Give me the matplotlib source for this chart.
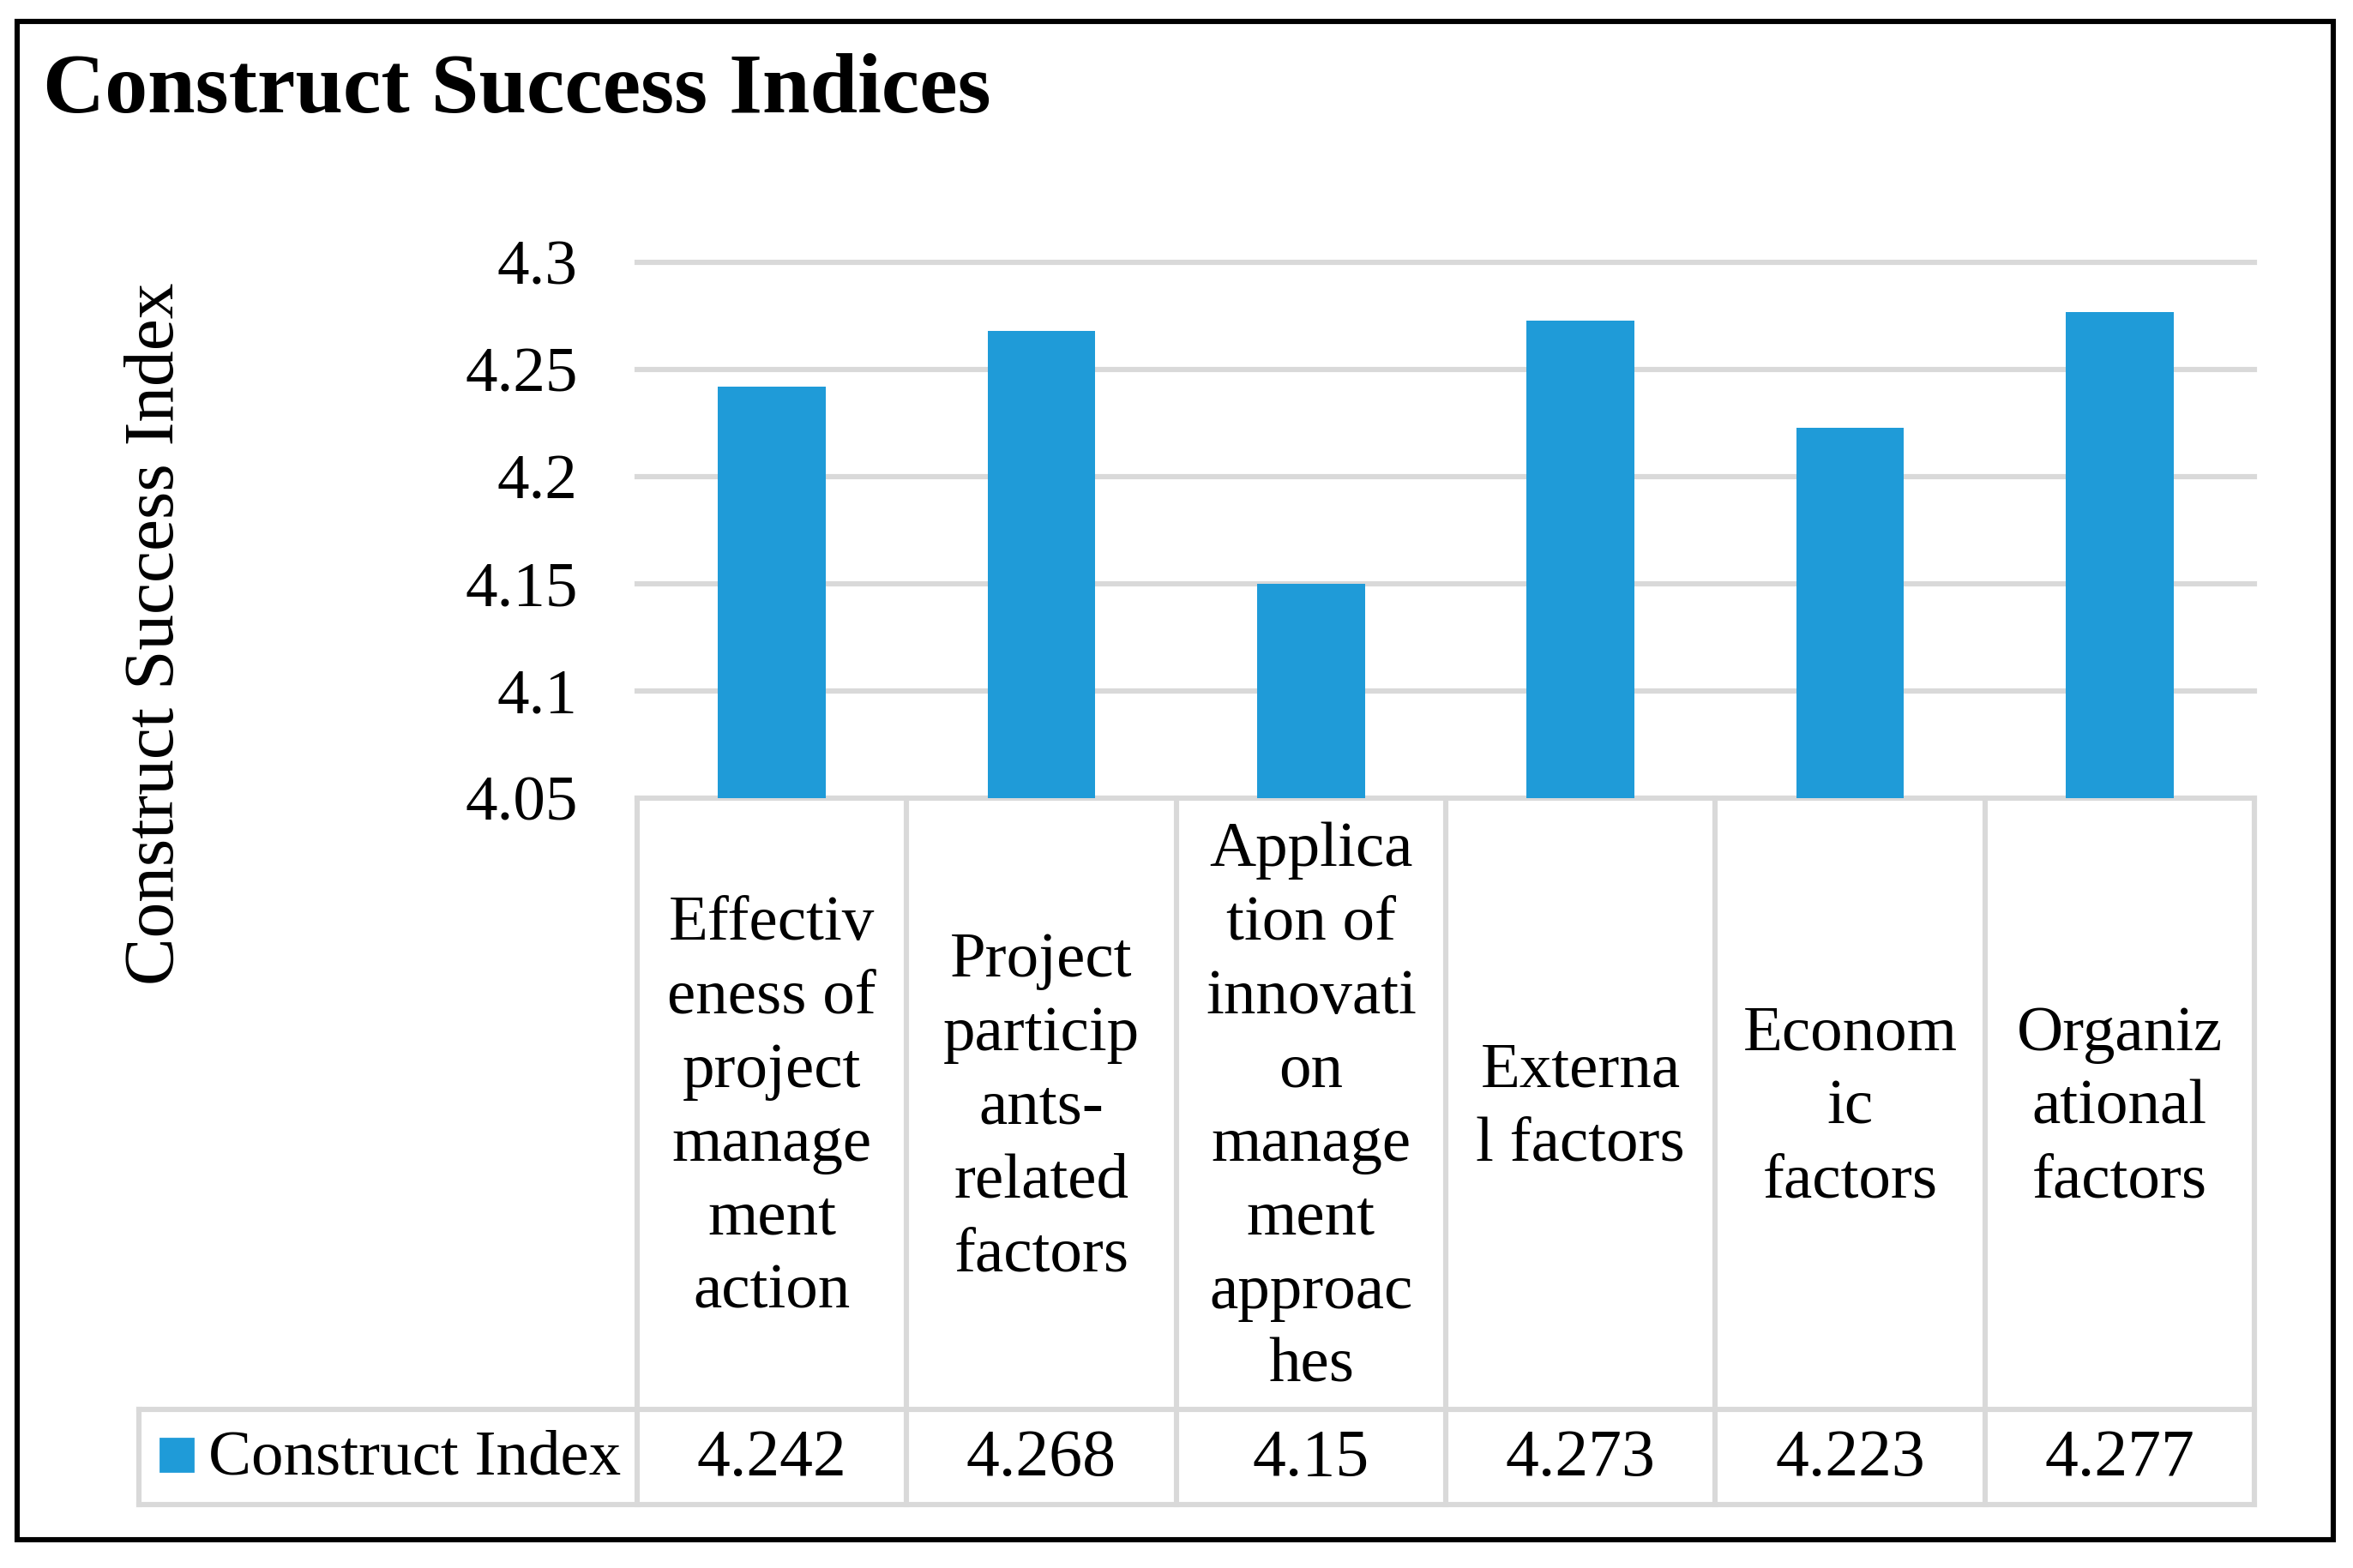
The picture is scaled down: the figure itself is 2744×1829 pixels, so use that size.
import matplotlib
matplotlib.use("Agg")
import matplotlib.pyplot as plt
from matplotlib.patches import Rectangle
from matplotlib.transforms import blended_transform_factory

# Data
categories = [
    "Effectiv\neness of\nproject\nmanage\nment\naction",
    "Project\nparticip\nants-\nrelated\nfactors",
    "Applica\ntion of\ninnovati\non\nmanage\nment\napproac\nhes",
    "Externa\nl factors",
    "Econom\nic\nfactors",
    "Organiz\national\nfactors",
]
values = [4.242, 4.268, 4.15, 4.273, 4.223, 4.277]
yticks = [4.05, 4.1, 4.15, 4.2, 4.25, 4.3]
series_name = "Construct Index"

bar_color = "#1f9bd8"
grid_color = "#d9d9d9"
W, H = 2744, 1829

plt.rcParams['font.family'] = ['Liberation Serif', 'DejaVu Serif']

fig = plt.figure(figsize=(W / 200, H / 200), dpi=200)


def fx(px):
    return px / W


def fy(py):
    return 1 - py / H


# plot area
ax_l, ax_r, ax_t, ax_b = 743, 2629, 306, 931
ax = fig.add_axes([fx(ax_l), fy(ax_b), fx(ax_r - ax_l), (ax_b - ax_t) / H])
x = list(range(len(values)))
ax.bar(x, values, width=0.4, color=bar_color, zorder=3)
ax.set_xlim(-0.5, len(values) - 0.5)
ax.set_ylim(4.05, 4.3)
ax.set_yticks(yticks)
ax.set_yticklabels([f"{t:g}" for t in yticks], fontsize=27)
ax.tick_params(axis='y', length=0, pad=25)
ax.set_xticks([])
for s in ax.spines.values():
    s.set_visible(False)
for t in yticks:
    ax.axhline(t, color=grid_color, lw=2.2, zorder=1, clip_on=False)

# data table below the plot, x in category units, y in figure fraction
tr = blended_transform_factory(ax.transData, fig.transFigure)
cell_w = (ax_r - ax_l) / len(values)
x_leg = -0.5 - (ax_l - 162) / cell_w
row_top, row_bot = 1644, 1755
for i in range(len(values) + 1):
    ax.plot([i - 0.5, i - 0.5], [fy(ax_b), fy(row_bot)], transform=tr,
            color=grid_color, lw=2.2, clip_on=False, solid_capstyle='projecting')
for yy in (row_top, row_bot):
    ax.plot([x_leg, len(values) - 0.5], [fy(yy), fy(yy)], transform=tr,
            color=grid_color, lw=2.2, clip_on=False, solid_capstyle='projecting')
ax.plot([x_leg, x_leg], [fy(row_top), fy(row_bot)], transform=tr,
        color=grid_color, lw=2.2, clip_on=False, solid_capstyle='projecting')

for i, (c, v) in enumerate(zip(categories, values)):
    ax.text(i, fy(1293), c, transform=tr, ha='center', va='center',
            fontsize=27, linespacing=1.36, multialignment='center')
    ax.text(i, fy(1702), f"{v:g}", transform=tr, ha='center', va='center',
            fontsize=28)

# legend key in the table
fig.patches.append(Rectangle((fx(187), fy(1716)), fx(38), 38 / H,
                             transform=fig.transFigure, color=bar_color))
fig.text(fx(243), fy(1702), series_name, ha='left', va='center', fontsize=27)

# axis title and chart title
fig.text(fx(182), fy(739), "Construct Success Index", rotation=90,
         ha='center', va='center', fontsize=30)
fig.text(fx(50), fy(131), "Construct Success Indices", ha='left',
         va='baseline', fontsize=36, fontweight='bold')

# outer frame
fig.patches.append(Rectangle((fx(20), fy(1796)), fx(2721 - 20), (1796 - 24.5) / H,
                             transform=fig.transFigure, fill=False,
                             ec='black', lw=2.2))

fig.savefig("out.png", dpi=200)
